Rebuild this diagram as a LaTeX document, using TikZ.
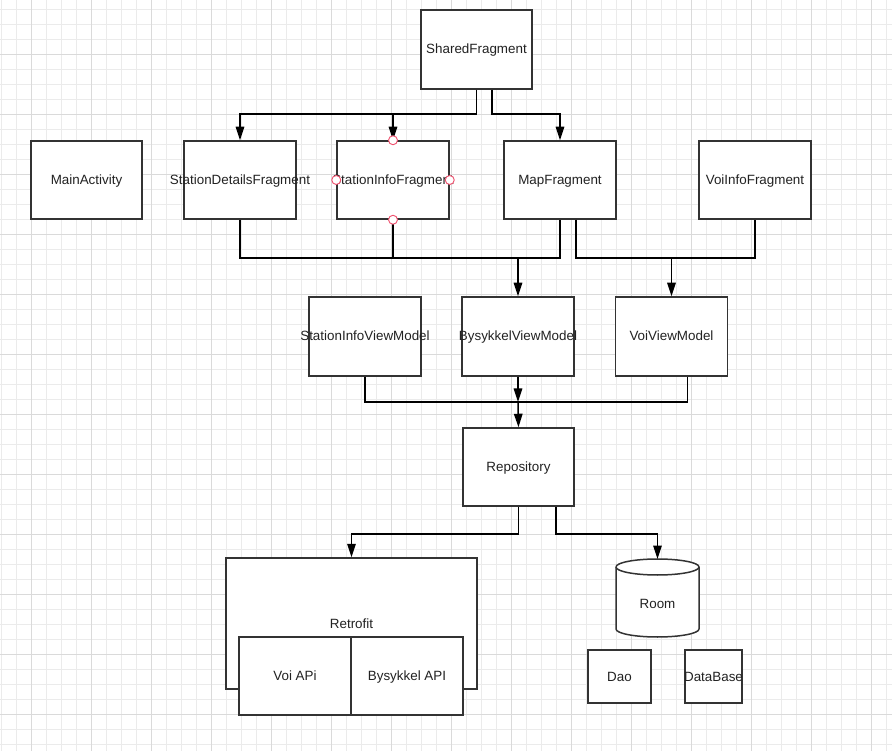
\documentclass[tikz,border=0pt]{standalone}
\usepackage{fontspec}
\setmainfont{Liberation Sans}
\usetikzlibrary{arrows.meta}
\definecolor{boxc}{HTML}{333333}
\definecolor{txtc}{HTML}{222222}
\definecolor{portc}{HTML}{F0506E}
\definecolor{gridminor}{HTML}{EBEBEB}
\definecolor{gridmajor}{HTML}{DADADA}
\newcommand{\zw}[1]{\makebox[0pt][c]{#1}}
\begin{document}
\begin{tikzpicture}[x=1pt,y=-1pt,
  box/.style={draw=boxc, line width=1.5pt, fill=white, inner sep=0pt, text=txtc,
              text height=10pt, text depth=1pt,
              font=\fontsize{13.4}{16}\selectfont},
  conn/.style={line width=1.5pt, draw=black},
  arr/.style={conn, -{Triangle[length=13.5pt,width=8.5pt]}},
  port/.style={circle, draw=portc, line width=0.9pt, fill=white, minimum size=9pt, inner sep=0pt},
  lbl/.style={text=txtc, inner sep=0pt, text height=10pt, text depth=1pt, font=\fontsize{13.4}{16}\selectfont}
]
\useasboundingbox (0,0) rectangle (892,751);
\fill[white] (0,0) rectangle (892,751);
% grid
\foreach \gx in {1.7,16.7,...,891}{\draw[gridminor, line width=0.8pt] (\gx,0) -- (\gx,751);}
\foreach \gy in {9,24,...,750}{\draw[gridminor, line width=0.8pt] (0,\gy) -- (892,\gy);}
\foreach \gx in {31.7,91.7,...,891}{\draw[gridmajor, line width=0.8pt] (\gx,0) -- (\gx,751);}
\foreach \gy in {54,114,...,750}{\draw[gridmajor, line width=0.8pt] (0,\gy) -- (892,\gy);}

% top row
\node[box, minimum width=111pt, minimum height=79pt] (shared) at (476.5,49.5) {\zw{SharedFragment}};
\node[box, minimum width=111pt, minimum height=78pt] (mainact) at (86.5,180) {\zw{MainActivity}};
\node[box, minimum width=112pt, minimum height=78pt] (sdf) at (240,180) {\zw{StationDetailsFragment}};
\node[box, minimum width=112pt, minimum height=78pt] (sif) at (393,180) {\zw{StationInfoFragment}};
\node[box, minimum width=112pt, minimum height=78pt] (map) at (560,180) {\zw{MapFragment}};
\node[box, minimum width=112pt, minimum height=78pt] (voiinfo) at (755,180) {\zw{VoiInfoFragment}};

% view models
\node[box, minimum width=112pt, minimum height=79pt] (sivm) at (365,336.5) {\zw{StationInfoViewModel}};
\node[box, minimum width=112pt, minimum height=79pt] (bvm) at (518,336.5) {\zw{BysykkelViewModel}};
\node[box, minimum width=112pt, minimum height=79pt] (vvm) at (671.5,336.5) {\zw{VoiViewModel}};

% repository
\node[box, minimum width=111pt, minimum height=78pt] (repo) at (518.5,467) {\zw{Repository}};

% retrofit
\node[box, minimum width=251pt, minimum height=131pt] (retrofit) at (351.5,623.5) {\zw{Retrofit}};
\node[box, minimum width=112pt, minimum height=78pt] (voiapi) at (295,676) {\zw{Voi APi}};
\node[box, minimum width=112pt, minimum height=78pt] (bapi) at (407,676) {\zw{Bysykkel API}};

% room
\fill[white] (616,567) -- (616,629) arc[start angle=180,end angle=0,x radius=41.5,y radius=8]
   -- (699,567) arc[start angle=0,end angle=-180,x radius=41.5,y radius=8] -- cycle;
\draw[boxc, line width=1.5pt] (616,567) -- (616,629) arc[start angle=180,end angle=0,x radius=41.5,y radius=8]
   -- (699,567) arc[start angle=0,end angle=-180,x radius=41.5,y radius=8];
\draw[boxc, line width=1.5pt] (616,567) arc[start angle=180,end angle=0,x radius=41.5,y radius=8];
\node[lbl] (room) at (657.5,604) {Room};
\coordinate (roomtop) at (657.5,559);

\node[box, minimum width=63pt, minimum height=53pt] (dao) at (619.5,676.5) {\zw{Dao}};
\node[box, minimum width=57pt, minimum height=53pt] (db) at (713.5,676.5) {\zw{DataBase}};

% connectors: shared -> fragments
\coordinate (j1) at (476.5,114);
\coordinate (j2) at (492,114);
\draw[conn] (shared.south) -- (j1);
\draw[arr] (j1) -| (sdf.north);
\draw[arr] (sif.north |- j1) -- (sif.north);
\draw[arr] ([xshift=15.5pt]shared.south) -- (j2) -| (map.north);

% fragments -> view models
\coordinate (j3) at (518,258);
\coordinate (j4) at (672,258);
\draw[conn] (sdf.south) |- (map.south |- j3) -- (map.south);
\draw[conn] (sif.south) -- (sif.south |- j3);
\draw[arr] (bvm.north |- j3) -- (bvm.north);
\draw[conn] ([xshift=16pt]map.south) |- (voiinfo.south |- j4) -- (voiinfo.south);
\draw[arr] (vvm.north |- j4) -- (vvm.north);

% view models -> repository
\coordinate (j5) at (518,402);
\draw[conn] (sivm.south) |- ([xshift=16pt]vvm.south |- j5) -- ([xshift=16pt]vvm.south);
\draw[arr] (bvm.south) -- (j5);
\draw[arr] (j5) -- (repo.north);

% repository -> retrofit / room
\coordinate (j6) at (518.5,534);
\coordinate (j7) at (556,534);
\draw[arr] (repo.south) -- (j6) -| (retrofit.north);
\draw[arr] ([xshift=37.5pt]repo.south) -- (j7) -| (roomtop);

% ports on StationInfoFragment
\node[port] (pt) at (sif.north) {};
\node[port] (pb) at (sif.south) {};
\node[port] (pl) at (sif.west) {};
\node[port] (pr) at (sif.east) {};
\end{tikzpicture}
\end{document}
